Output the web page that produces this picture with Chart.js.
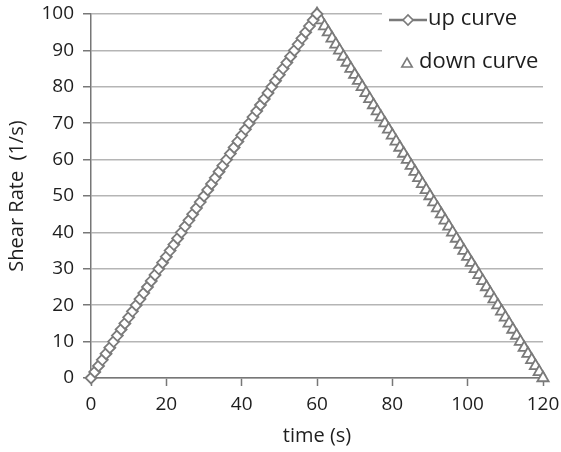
<!DOCTYPE html>
<html>
<head>
<meta charset="utf-8">
<script src="https://cdn.jsdelivr.net/npm/chart.js@4.4.0/dist/chart.umd.min.js"></script>
<style>
  html, body { margin: 0; padding: 0; background: #fff; }
  #wrap { width: 561px; height: 452px; }
</style>
</head>
<body>
<div id="wrap"><canvas id="shearChart" width="561" height="452"></canvas></div>
<script>
// up curve: time (s) and shear rate (1/s)
const upTime = [0, 1, 2, 3, 4, 5, 6, 7, 8, 9, 10, 11, 12, 13, 14, 15, 16, 17, 18, 19, 20,
  21, 22, 23, 24, 25, 26, 27, 28, 29, 30, 31, 32, 33, 34, 35, 36, 37, 38, 39, 40,
  41, 42, 43, 44, 45, 46, 47, 48, 49, 50, 51, 52, 53, 54, 55, 56, 57, 58, 59, 60];
const upRate = [0, 1.67, 3.33, 5, 6.67, 8.33, 10, 11.67, 13.33, 15, 16.67, 18.33, 20, 21.67, 23.33,
  25, 26.67, 28.33, 30, 31.67, 33.33, 35, 36.67, 38.33, 40, 41.67, 43.33, 45, 46.67, 48.33, 50,
  51.67, 53.33, 55, 56.67, 58.33, 60, 61.67, 63.33, 65, 66.67, 68.33, 70, 71.67, 73.33, 75,
  76.67, 78.33, 80, 81.67, 83.33, 85, 86.67, 88.33, 90, 91.67, 93.33, 95, 96.67, 98.33, 100];

// down curve
const downTime = [60, 61, 62, 63, 64, 65, 66, 67, 68, 69, 70, 71, 72, 73, 74, 75, 76, 77, 78, 79, 80,
  81, 82, 83, 84, 85, 86, 87, 88, 89, 90, 91, 92, 93, 94, 95, 96, 97, 98, 99, 100,
  101, 102, 103, 104, 105, 106, 107, 108, 109, 110, 111, 112, 113, 114, 115, 116, 117, 118, 119, 120];
const downRate = [100, 98.33, 96.67, 95, 93.33, 91.67, 90, 88.33, 86.67, 85, 83.33, 81.67, 80, 78.33, 76.67,
  75, 73.33, 71.67, 70, 68.33, 66.67, 65, 63.33, 61.67, 60, 58.33, 56.67, 55, 53.33, 51.67, 50,
  48.33, 46.67, 45, 43.33, 41.67, 40, 38.33, 36.67, 35, 33.33, 31.67, 30, 28.33, 26.67, 25,
  23.33, 21.67, 20, 18.33, 16.67, 15, 13.33, 11.67, 10, 8.33, 6.67, 5, 3.33, 1.67, 0];

const seriesNames = ['up curve', 'down curve'];

const FONT = '"Open Sans", Lato, sans-serif';
const markGray = '#7a7a7a';
const axisGray = '#777';
const textColor = '#1e1e1e';

function toPoints(xs, ys) {
  return xs.map((x, i) => ({ x: x, y: ys[i] }));
}

// legend drawn inside the plot, top right, on a white patch
const insideLegend = {
  id: 'insideLegend',
  afterDraw(chart) {
    const c = chart.ctx;
    const ds = chart.data.datasets;
    c.save();
    c.fillStyle = '#fff';
    c.fillRect(382, 0, 561 - 382, 72);
    c.font = '22px ' + FONT;
    c.textBaseline = 'middle';
    c.textAlign = 'left';

    // up curve: line + diamond
    c.strokeStyle = ds[0].borderColor;
    c.lineWidth = 2.5;
    c.beginPath();
    c.moveTo(389, 20);
    c.lineTo(427, 20);
    c.stroke();
    c.fillStyle = '#fff';
    c.lineWidth = 1.6;
    Chart.helpers.drawPoint(c, { pointStyle: 'rectRot', radius: 5, borderWidth: 1.6 }, 408, 20);
    c.fillStyle = textColor;
    c.fillText(ds[0].label, 428, 19);

    // down curve: triangle only
    c.strokeStyle = ds[1].pointBorderColor;
    c.fillStyle = '#fff';
    c.lineWidth = 1.6;
    Chart.helpers.drawPoint(c, { pointStyle: 'triangle', radius: 6, borderWidth: 1.6 }, 407, 64);
    c.fillStyle = textColor;
    c.fillText(ds[1].label, 419, 62);
    c.restore();
  }
};

new Chart(document.getElementById('shearChart'), {
  type: 'scatter',
  data: {
    datasets: [
      {
        label: seriesNames[0],
        data: toPoints(upTime, upRate),
        showLine: true,
        clip: false,
        borderColor: markGray,
        borderWidth: 2,
        pointStyle: 'rectRot',
        pointRadius: 5.5,
        pointBorderWidth: 1.8,
        pointBorderColor: markGray,
        pointBackgroundColor: '#fff'
      },
      {
        label: seriesNames[1],
        data: toPoints(downTime, downRate),
        showLine: false,
        clip: false,
        pointStyle: 'triangle',
        pointRadius: 6.5,
        pointBorderWidth: 1.8,
        pointBorderColor: markGray,
        pointBackgroundColor: '#fff',
        borderColor: markGray
      }
    ]
  },
  options: {
    responsive: false,
    animation: false,
    layout: { padding: { left: 0, right: 18, top: 14, bottom: 0 } },
    plugins: {
      legend: { display: false },
      tooltip: { enabled: false }
    },
    scales: {
      x: {
        type: 'linear',
        min: 0,
        max: 120,
        afterFit(s) { s.height = 74; s.paddingRight = 0; s.paddingLeft = 0; },
        ticks: { stepSize: 20, color: textColor, font: { family: FONT, size: 19 }, padding: 7 },
        grid: { drawOnChartArea: false, drawTicks: true, tickLength: 8, tickColor: axisGray, tickWidth: 1.5 },
        border: { color: axisGray, width: 1.5 },
        title: { display: true, text: 'time (s)', color: textColor, font: { family: FONT, size: 20 }, padding: { top: 0, bottom: 4 } }
      },
      y: {
        min: 0,
        max: 100,
        afterFit(s) { s.width = 91; s.paddingTop = 0; s.paddingBottom = 0; },
        ticks: { stepSize: 10, color: textColor, font: { family: FONT, size: 19 }, padding: 9 },
        grid: { color: '#b5b5b5', lineWidth: 1.5, drawTicks: true, tickLength: 8, tickColor: axisGray, tickWidth: 1.5 },
        border: { color: axisGray, width: 1.5 },
        title: { display: true, text: 'Shear Rate  (1/s)', color: textColor, font: { family: FONT, size: 20 }, padding: { top: 5, bottom: 0 } }
      }
    }
  },
  plugins: [insideLegend]
});
</script>
</body>
</html>
